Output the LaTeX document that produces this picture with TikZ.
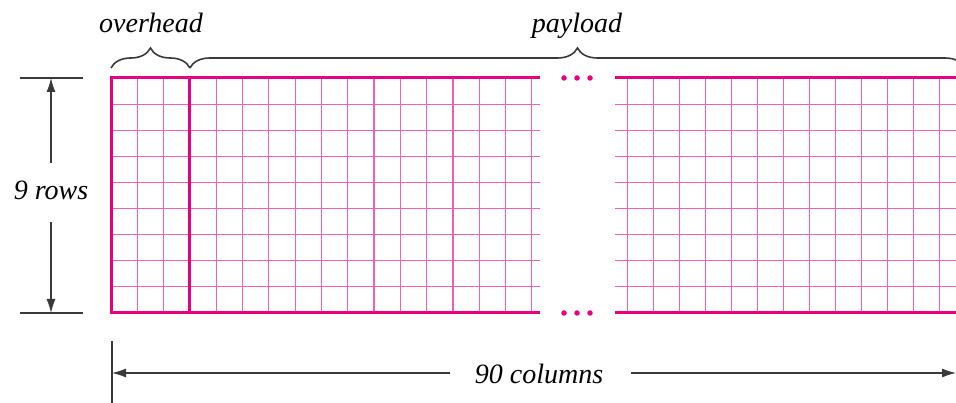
\documentclass[tikz,border=0pt]{standalone}
\usepackage{fontspec}
\setmainfont{Liberation Serif}
\usetikzlibrary{decorations.pathreplacing,arrows.meta}
\definecolor{mag}{HTML}{E8007F}
\definecolor{pinkthin}{HTML}{F260B4}
\definecolor{dimgray}{HTML}{3A3A3A}
\begin{document}
\begin{tikzpicture}[x=1pt,y=1pt,
  lbl/.style={font=\fontsize{28}{30}\selectfont\itshape, inner sep=0pt},
  thingrid/.style={draw=pinkthin, line width=1.2pt},
  thickgrid/.style={draw=mag, line width=3pt},
  dimline/.style={draw=dimgray, line width=1.1pt},
  dimarrow/.style={dimline, -{Latex[length=14pt,width=9pt]}},
  brc/.style={draw=dimgray, line width=1.6pt, decorate, decoration={brace, amplitude=20pt}},
  dotnode/.style={circle, fill=mag, inner sep=0pt, minimum size=5.5pt}]
\useasboundingbox (0,0) rectangle (956,-403);
\clip (0,0) rectangle (956,-403);
% thin grid, left part
\foreach \k in {1,...,8} \draw[thingrid] (111,-78-26.11*\k) -- (540,-78-26.11*\k);
\foreach \k in {1,2,4,5,6,7,8,9,10,11,12,13,14,15,16} \draw[thingrid] (111+26.3*\k,-78) -- (111+26.3*\k,-313);
% thin grid, right part
\foreach \k in {1,...,8} \draw[thingrid] (615,-78-26.11*\k) -- (960,-78-26.11*\k);
\foreach \k in {0,...,12} \draw[thingrid] (627.4+26*\k,-78) -- (627.4+26*\k,-313);
% thick borders
\draw[thickgrid] (540,-78) -- (111,-78) -- (111,-313) -- (540,-313);
\draw[thickgrid] (189.9,-78) -- (189.9,-313);
\draw[thickgrid] (615,-78) -- (962,-78);
\draw[thickgrid] (615,-313) -- (962,-313);
% dots
\node[dotnode] (dt1) at (564,-78) {};
\node[dotnode] (dt2) at (577,-78) {};
\node[dotnode] (dt3) at (590,-78) {};
\node[dotnode] (db1) at (564,-313) {};
\node[dotnode] (db2) at (577,-313) {};
\node[dotnode] (db3) at (590,-313) {};
% braces
\coordinate (ohL) at (111,-68);
\coordinate (ohR) at (189.9,-68);
\coordinate (plR) at (965,-68);
\draw[brc] (ohL) -- (ohR);
\draw[brc] (ohR) -- (plR);
\node[lbl, anchor=base] (overhead) at (151,-33) {overhead};
\node[lbl, anchor=base] (payload) at (577,-33) {payload};
% rows dimension
\coordinate (tkTa) at (20,-78);
\coordinate (tkTb) at (83,-78);
\coordinate (tkBa) at (20,-313);
\coordinate (tkBb) at (83,-313);
\draw[dimline] (tkTa) -- (tkTb);
\draw[dimline] (tkBa) -- (tkBb);
\node[lbl, anchor=base] (rows) at (51,-200) {9 rows};
\coordinate (rowT) at (51,-78);
\coordinate (rowB) at (51,-313);
\draw[dimarrow] (rowT |- 0,-163) -- (rowT);
\draw[dimarrow] (rowB |- 0,-222) -- (rowB);
% columns dimension
\coordinate (tkLa) at (112,-341);
\coordinate (tkLb) at (112,-403);
\draw[dimline] (tkLa) -- (tkLb);
\node[lbl, anchor=base] (cols) at (539,-384) {90 columns};
\coordinate (colL) at (112,-373);
\coordinate (colR) at (956,-373);
\draw[dimarrow, shorten <=25pt] (cols.west |- colL) -- (colL);
\draw[dimarrow, shorten <=28pt] (cols.east |- colR) -- (colR);
\end{tikzpicture}
\end{document}
